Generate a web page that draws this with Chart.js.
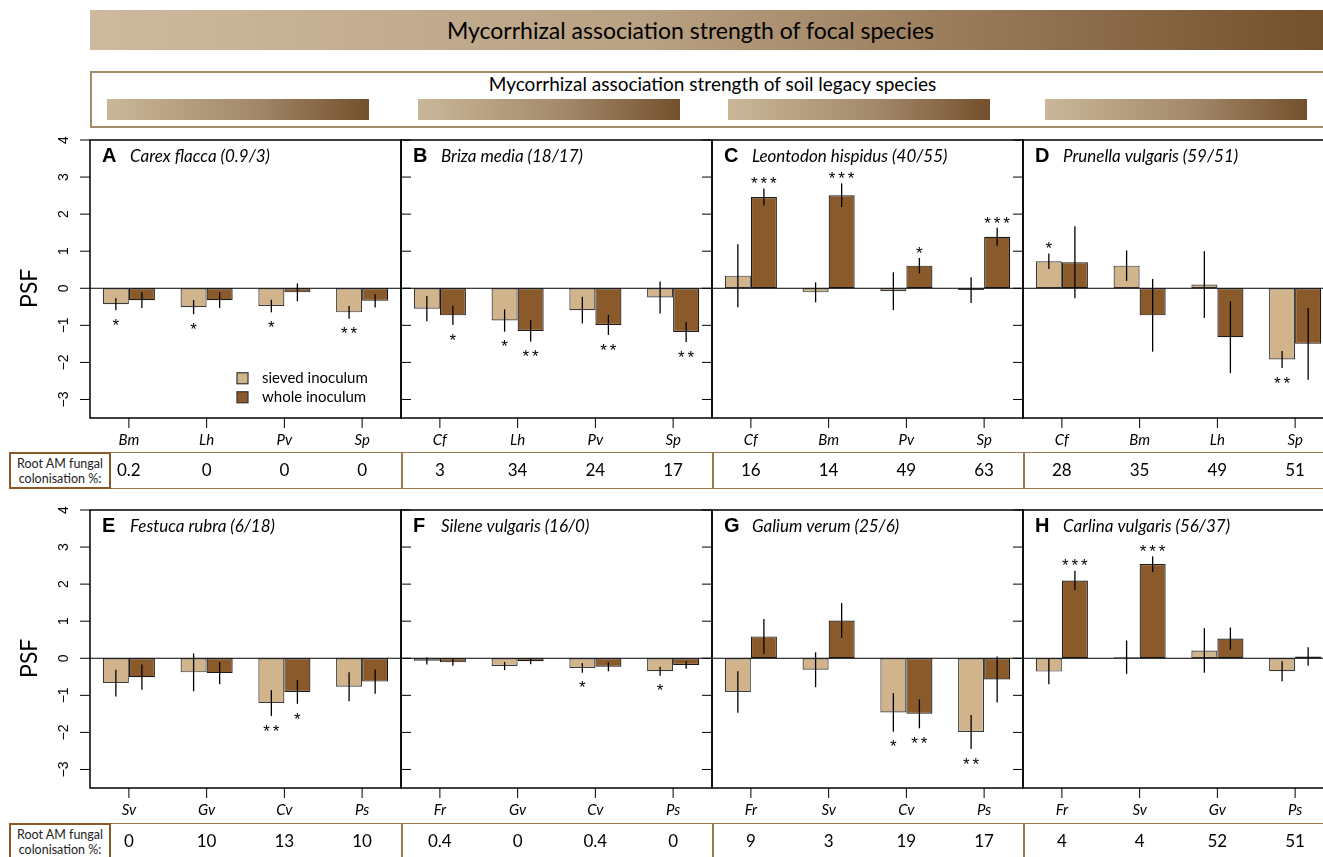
<!DOCTYPE html>
<html lang="en">
<head>
<meta charset="UTF-8">
<title>PSF by inoculum type</title>
<script src="https://cdn.jsdelivr.net/npm/chart.js"></script>
<style>
  body { margin: 0; width: 1323px; height: 857px; overflow: hidden; background: #fff; position: relative; font-family: Lato, "Open Sans", sans-serif; color: #000; }
  .abs { position: absolute; }
  .bigbar { left: 90px; top: 10px; width: 1233px; height: 40px; background: linear-gradient(to right, #cdba9e, #b9a183 45%, #74502c); font-size: 23px; line-height: 40px; text-align: center; padding-right: 32px; box-sizing: border-box; }
  .legacybox { left: 90px; top: 71px; width: 1260px; height: 57px; border: 2px solid #a68a6c; box-sizing: border-box; }
  .legacytitle { left: 90px; top: 72px; width: 1245px; text-align: center; font-size: 19px; }
  .smallbar { top: 99px; width: 262px; height: 21px; background: linear-gradient(to right, #cab799, #a48a6c 55%, #74502c); }
  .table { left: 9px; width: 1340px; height: 37px; border: 1.5px solid #a07850; box-sizing: border-box; }
  .rowlabel { left: 9px; width: 102px; height: 37px; border: 2px solid #8b5a2b; box-sizing: border-box; font-size: 12.5px; line-height: 15px; text-align: center; padding-top: 2px; color: #222; }
  .divider { width: 1.5px; height: 37px; background: #a07850; }
  .val { font-size: 17px; width: 60px; text-align: center; }
</style>
</head>
<body>

<div class="abs bigbar">Mycorrhizal association strength of focal species</div>
<div class="abs legacybox"></div>
<div class="abs legacytitle">Mycorrhizal association strength of soil legacy species</div>
<div class="abs smallbar" style="left:107px"></div>
<div class="abs smallbar" style="left:418px"></div>
<div class="abs smallbar" style="left:728px"></div>
<div class="abs smallbar" style="left:1045px"></div>

<script>
// panels A-H
const panelLetters = ['A', 'B', 'C', 'D', 'E', 'F', 'G', 'H'];
const panelTitles = ['Carex flacca (0.9/3)', 'Briza media (18/17)', 'Leontodon hispidus (40/55)', 'Prunella vulgaris (59/51)',
                     'Festuca rubra (6/18)', 'Silene vulgaris (16/0)', 'Galium verum (25/6)', 'Carlina vulgaris (56/37)'];
const legacySpecies = [
  ['Bm', 'Lh', 'Pv', 'Sp'], ['Cf', 'Lh', 'Pv', 'Sp'], ['Cf', 'Bm', 'Pv', 'Sp'], ['Cf', 'Bm', 'Lh', 'Sp'],
  ['Sv', 'Gv', 'Cv', 'Ps'], ['Fr', 'Gv', 'Cv', 'Ps'], ['Fr', 'Sv', 'Cv', 'Ps'], ['Fr', 'Sv', 'Gv', 'Ps']
];

// PSF means
const sievedPSF = [
  [-0.43, -0.51, -0.48, -0.65], [-0.55, -0.87, -0.59, -0.25], [0.34, -0.11, -0.08, -0.05], [0.73, 0.61, 0.10, -1.92],
  [-0.67, -0.38, -1.21, -0.77], [-0.07, -0.21, -0.26, -0.35], [-0.91, -0.31, -1.46, -1.99], [-0.36, 0.03, 0.21, -0.35]
];
const wholePSF = [
  [-0.32, -0.32, -0.11, -0.34], [-0.73, -1.15, -0.99, -1.18], [2.46, 2.51, 0.61, 1.39], [0.70, -0.73, -1.32, -1.50],
  [-0.51, -0.40, -0.91, -0.63], [-0.11, -0.08, -0.23, -0.18], [0.59, 1.02, -1.50, -0.57], [2.10, 2.54, 0.53, 0.05]
];

// error bar half-lengths
const sievedSE = [
  [0.16, 0.19, 0.17, 0.17], [0.34, 0.30, 0.36, 0.43], [0.85, 0.27, 0.51, 0.35], [0.21, 0.41, 0.90, 0.23],
  [0.36, 0.51, 0.35, 0.39], [0.10, 0.11, 0.13, 0.12], [0.56, 0.47, 0.52, 0.46], [0.34, 0.45, 0.60, 0.27]
];
const wholeSE = [
  [0.21, 0.21, 0.24, 0.18], [0.26, 0.29, 0.27, 0.27], [0.23, 0.32, 0.21, 0.24], [0.97, 0.98, 0.97, 0.97],
  [0.34, 0.30, 0.32, 0.33], [0.09, 0.08, 0.12, 0.10], [0.47, 0.47, 0.39, 0.62], [0.26, 0.21, 0.30, 0.25]
];

// significance marks
const sievedSig = [
  ['*', '*', '*', '**'], ['', '*', '', ''], ['', '', '', ''], ['*', '', '', '**'],
  ['', '', '**', ''], ['', '', '*', '*'], ['', '', '*', '**'], ['', '', '', '']
];
const wholeSig = [
  ['', '', '', ''], ['*', '**', '**', '**'], ['***', '***', '*', '***'], ['', '', '', ''],
  ['', '', '*', ''], ['', '', '', ''], ['', '', '**', ''], ['***', '***', '', '']
];

// Root AM fungal colonisation %
const colonisation = [
  ['0.2', '0', '0', '0'], ['3', '34', '24', '17'], ['16', '14', '49', '63'], ['28', '35', '49', '51'],
  ['0', '10', '13', '10'], ['0.4', '0', '0.4', '0'], ['9', '3', '19', '17'], ['4', '4', '52', '51']
];

const yTicks = [4, 3, 2, 1, 0, -1, -2, -3];

const SIEVED = '#d2b48c';
const WHOLE = '#8b5a2b';

const colLeft = [90, 401, 712, 1023];
const rowTop = [140, 510];
const tableTop = [452, 823];
const BOX_W = 311;
const BOX_H = 278;

function line(ctx, x1, y1, x2, y2) {
    ctx.beginPath();
    ctx.moveTo(x1, y1);
    ctx.lineTo(x2, y2);
    ctx.stroke();
}

const panelDecor = {
    id: 'panelDecor',
    afterDatasetsDraw(chart, args, opts) {
        const ctx = chart.ctx;
        const a = chart.chartArea;
        const x = chart.scales.x;
        const y = chart.scales.y;
        ctx.save();
        ctx.strokeStyle = '#000';
        ctx.fillStyle = '#000';

        // zero line
        ctx.lineWidth = 1;
        const y0 = y.getPixelForValue(0);
        line(ctx, a.left, y0, a.right, y0);

        // error bars + stars
        ctx.font = '17px "Liberation Sans"';
        ctx.textAlign = 'center';
        ctx.textBaseline = 'middle';
        chart.data.datasets.forEach(function (ds, di) {
            const meta = chart.getDatasetMeta(di);
            meta.data.forEach(function (bar, i) {
                const v = ds.data[i];
                const e = ds.errors[i];
                const yt = y.getPixelForValue(v + e);
                const yb = y.getPixelForValue(v - e);
                ctx.lineWidth = 1.3;
                line(ctx, bar.x, yt, bar.x, yb);
                const n = ds.sig[i].length;
                const sy = v >= 0 ? yt - 4 : yb + 16;
                for (let k = 0; k < n; k++) {
                    ctx.fillText('*', bar.x + (k - (n - 1) / 2) * 9.5, sy);
                }
            });
        });

        // box
        ctx.lineWidth = 1.5;
        ctx.strokeRect(a.left, a.top, a.right - a.left, a.bottom - a.top);

        // right side ticks
        ctx.lineWidth = 1;
        yTicks.forEach(function (t) {
            const py = y.getPixelForValue(t);
            if (opts.col == 0) line(ctx, a.right, py, a.right + 10, py);
            else line(ctx, a.right - 10, py, a.right, py);
        });

        // left axis on first column
        if (opts.col == 0) {
            ctx.font = '14px "Liberation Sans"';
            yTicks.forEach(function (t) {
                const py = y.getPixelForValue(t);
                line(ctx, a.left - 10, py, a.left, py);
                ctx.save();
                ctx.translate(a.left - 26, py);
                ctx.rotate(-Math.PI / 2);
                ctx.fillText(t < 0 ? '\u2212' + Math.abs(t) : String(t), 0, 0);
                ctx.restore();
            });
            ctx.save();
            ctx.translate(30, y0);
            ctx.rotate(-Math.PI / 2);
            ctx.font = '23px Lato';
            ctx.fillText('PSF', 0, 0);
            ctx.restore();
        }

        // x ticks and labels
        ctx.font = 'italic 15px Lato';
        chart.data.labels.forEach(function (lab, i) {
            const px = x.getPixelForValue(i);
            line(ctx, px, a.bottom, px, a.bottom + 10);
            ctx.fillText(lab, px, a.bottom + 22);
        });

        // panel letter and title
        ctx.textAlign = 'left';
        ctx.textBaseline = 'alphabetic';
        ctx.font = 'bold 20px "Liberation Sans"';
        ctx.fillText(opts.letter, a.left + 12, a.top + 22);
        ctx.font = 'italic 17px Lato';
        ctx.fillText(opts.title, a.left + 40, a.top + 22);

        // legend in first panel
        if (opts.legend) {
            ctx.font = '15px Lato';
            ctx.textBaseline = 'middle';
            chart.data.datasets.forEach(function (ds, di) {
                const ly = y0 + 90 + di * 19;
                ctx.fillStyle = ds.backgroundColor;
                ctx.fillRect(a.left + 147, ly - 5.5, 11, 11);
                ctx.strokeStyle = '#333';
                ctx.lineWidth = 1.2;
                ctx.strokeRect(a.left + 147, ly - 5.5, 11, 11);
                ctx.fillStyle = '#000';
                ctx.fillText(ds.label, a.left + 172, ly);
            });
        }
        ctx.restore();
    }
};

// colonisation tables (one per row)
for (let r = 0; r < 2; r++) {
    const t = document.createElement('div');
    t.className = 'abs table';
    t.style.top = tableTop[r] + 'px';
    document.body.appendChild(t);
    colLeft.slice(1).forEach(function (cx) {
        const d = document.createElement('div');
        d.className = 'abs divider';
        d.style.left = cx + 'px';
        d.style.top = tableTop[r] + 'px';
        document.body.appendChild(d);
    });
    const lab = document.createElement('div');
    lab.className = 'abs rowlabel';
    lab.style.top = tableTop[r] + 'px';
    lab.innerHTML = 'Root AM fungal<br>colonisation %:';
    document.body.appendChild(lab);
}

for (let p = 0; p < 8; p++) {
    const r = Math.floor(p / 4);
    const c = p % 4;
    const padL = c == 0 ? 90 : 12;
    const padR = 14, padT = 10, padB = 44;
    const left = colLeft[c] - padL;
    const top = rowTop[r] - padT;

    const canvas = document.createElement('canvas');
    canvas.className = 'abs';
    canvas.width = padL + BOX_W + padR;
    canvas.height = padT + BOX_H + padB;
    canvas.style.left = left + 'px';
    canvas.style.top = top + 'px';
    document.body.appendChild(canvas);

    const chart = new Chart(canvas, {
        type: 'bar',
        data: {
            labels: legacySpecies[p],
            datasets: [{
                label: 'sieved inoculum',
                data: sievedPSF[p],
                errors: sievedSE[p],
                sig: sievedSig[p],
                backgroundColor: SIEVED,
                borderColor: '#3a3a3a',
                borderWidth: 1.2,
                borderSkipped: false,
                categoryPercentage: 0.67,
                barPercentage: 1
            }, {
                label: 'whole inoculum',
                data: wholePSF[p],
                errors: wholeSE[p],
                sig: wholeSig[p],
                backgroundColor: WHOLE,
                borderColor: '#1a1a1a',
                borderWidth: 1.2,
                borderSkipped: false,
                categoryPercentage: 0.67,
                barPercentage: 1
            }]
        },
        options: {
            responsive: false,
            animation: false,
            layout: { padding: { left: padL, right: padR, top: padT, bottom: padB } },
            plugins: {
                legend: { display: false },
                tooltip: { enabled: false },
                panelDecor: { col: c, letter: panelLetters[p], title: panelTitles[p], legend: p == 0 }
            },
            scales: {
                x: { display: false, offset: true },
                y: { display: false, min: -3.5, max: 4 }
            }
        },
        plugins: [panelDecor]
    });

    // table values under each category
    colonisation[p].forEach(function (v, i) {
        const d = document.createElement('div');
        d.className = 'abs val';
        d.textContent = v;
        d.style.left = (left + chart.scales.x.getPixelForValue(i) - 30) + 'px';
        d.style.top = (tableTop[r] + 7) + 'px';
        document.body.appendChild(d);
    });
}
</script>
</body>
</html>
